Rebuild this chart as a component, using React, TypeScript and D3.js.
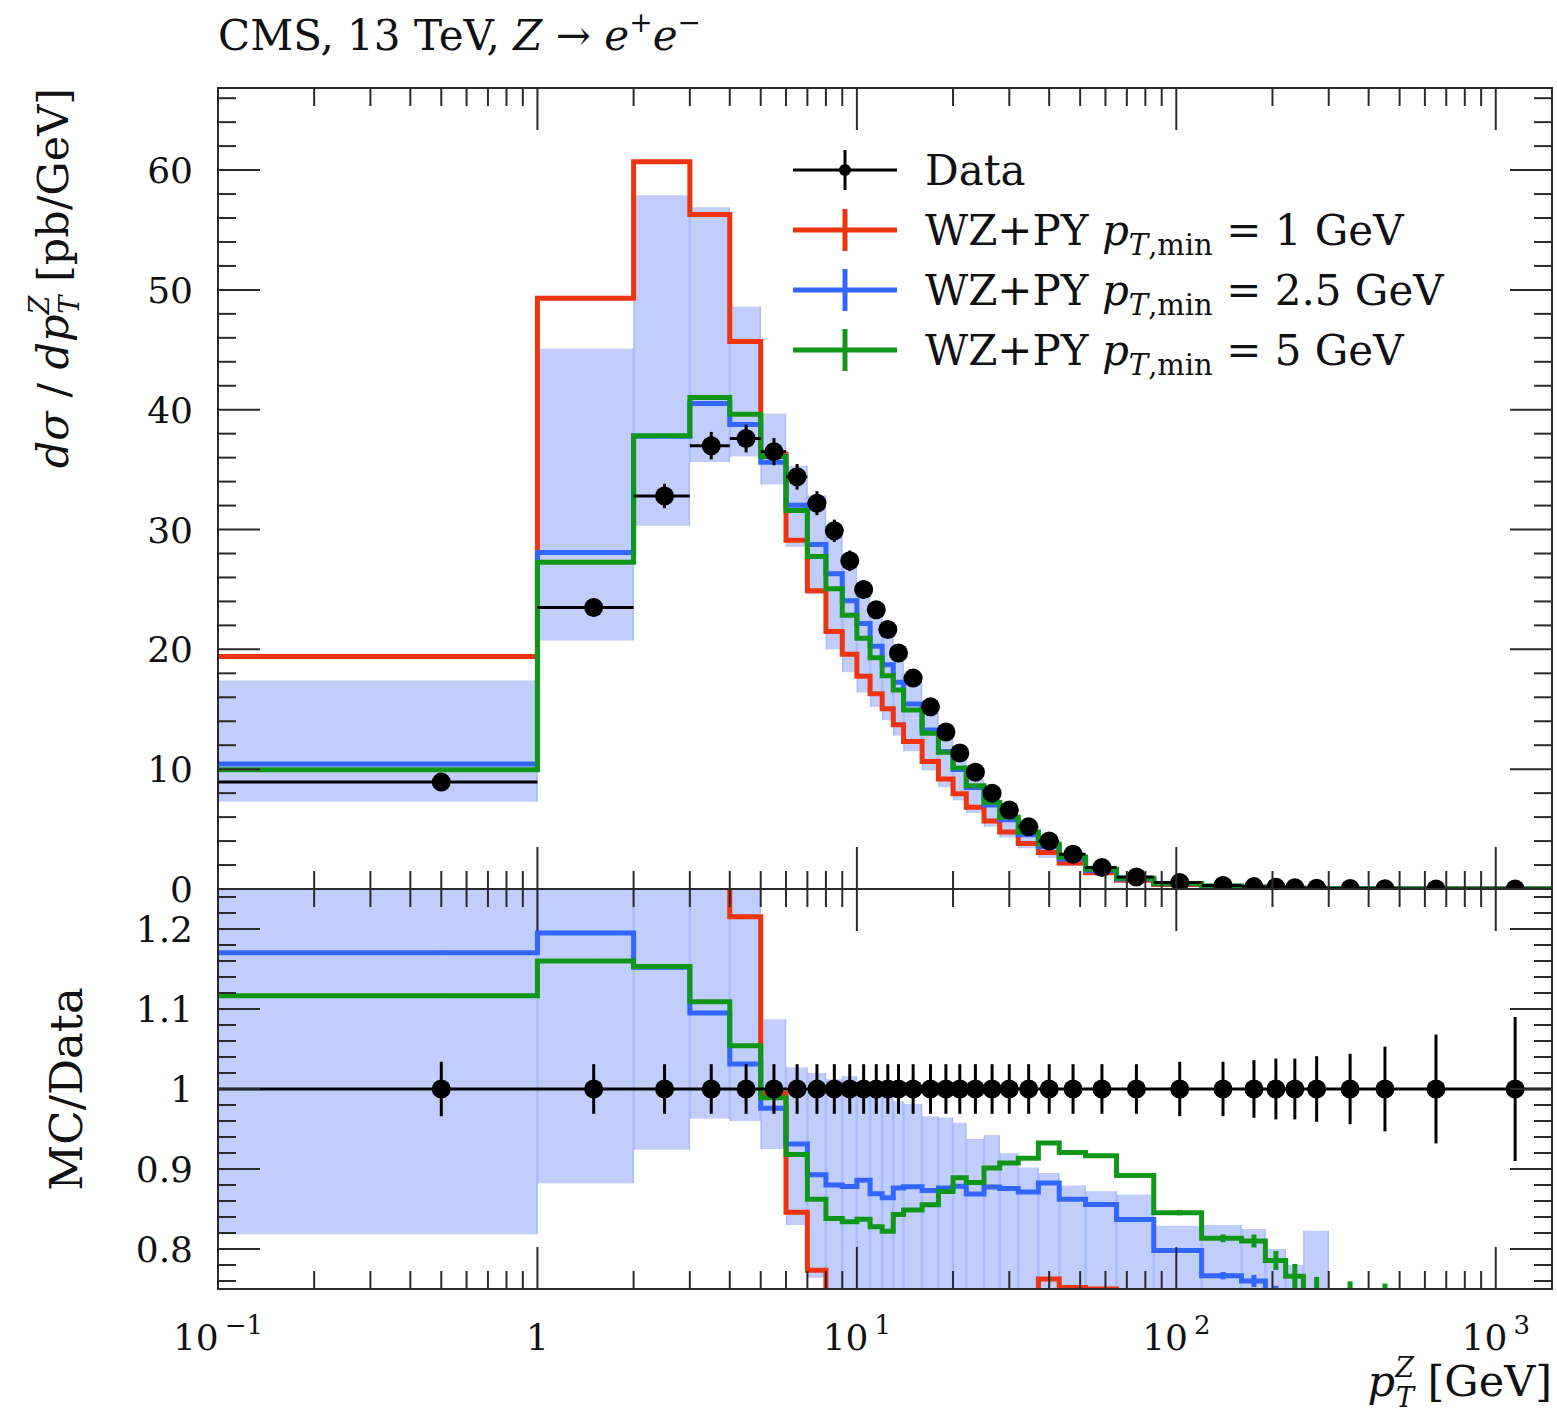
import React from "react";
import * as d3 from "d3";

// ---------------- data ----------------
const binEdges = [0, 1, 2, 3, 4, 5, 6, 7, 8, 9, 10, 11, 12, 13, 14, 16, 18, 20, 22, 25, 28, 32, 37, 43, 52, 65, 85, 120, 160, 190, 220, 250, 300, 400, 500, 800, 1500];

const dataValues = [8.92, 23.5, 32.8, 37.0, 37.6, 36.5, 34.4, 32.2, 29.9, 27.4, 25.0, 23.3, 21.65, 19.7, 17.6, 15.2, 13.1, 11.35, 9.75, 8.0, 6.6, 5.2, 4.0, 2.9, 1.8, 1.0, 0.55, 0.3, 0.2, 0.14, 0.1, 0.07, 0.04, 0.02, 0.01, 0.003];
const dataRelErr = [0.034, 0.031, 0.031, 0.031, 0.031, 0.031, 0.031, 0.031, 0.031, 0.031, 0.031, 0.031, 0.031, 0.031, 0.031, 0.031, 0.031, 0.031, 0.031, 0.031, 0.031, 0.031, 0.031, 0.031, 0.031, 0.031, 0.034, 0.034, 0.036, 0.038, 0.038, 0.041, 0.044, 0.053, 0.068, 0.09];

// WZ+PY pT,min = 1 GeV
const mcPt1 = [19.4, 49.3, 60.7, 56.3, 45.7, 36.3, 29.1, 24.9, 21.5, 19.6, 17.75, 16.3, 15.05, 13.7, 12.3, 10.65, 9.17, 7.95, 6.83, 5.68, 4.75, 3.8, 3.05, 2.18, 1.35, 0.73, 0.385, 0.19, 0.12, 0.08, 0.055, 0.035, 0.02, 0.009, 0.004, 0.001];
// WZ+PY pT,min = 2.5 GeV
const mcPt25 = [10.44, 28.08, 37.79, 40.52, 38.77, 35.62, 32.03, 28.75, 26.31, 24.06, 22.15, 20.25, 18.71, 17.26, 15.45, 13.27, 11.48, 9.97, 8.47, 7.02, 5.78, 4.53, 3.53, 2.50, 1.54, 0.837, 0.439, 0.230, 0.152, 0.104, 0.072, 0.049, 0.027, 0.013, 0.006, 0.0015];
// WZ+PY pT,min = 5 GeV
const mcPt5 = [9.96, 27.26, 37.82, 41.03, 39.63, 36.10, 31.58, 27.76, 25.06, 22.85, 20.93, 19.29, 17.80, 16.61, 14.94, 13.0, 11.42, 10.09, 8.61, 7.21, 5.99, 4.75, 3.73, 2.67, 1.65, 0.892, 0.465, 0.244, 0.162, 0.110, 0.0766, 0.052, 0.0288, 0.0142, 0.0065, 0.0018];
const mcRelErr = [0.002, 0.002, 0.002, 0.002, 0.002, 0.002, 0.002, 0.002, 0.002, 0.002, 0.002, 0.002, 0.002, 0.002, 0.002, 0.002, 0.002, 0.002, 0.002, 0.002, 0.002, 0.002, 0.002, 0.002, 0.002, 0.002, 0.004, 0.006, 0.01, 0.015, 0.02, 0.03, 0.055, 0.066, 0.09, 0.15];

// uncertainty band
const bandLow = [7.30, 20.73, 30.31, 35.63, 36.1, 33.76, 28.55, 24.6, 20.0, 18.1, 16.4, 15.2, 14.1, 12.8, 11.5, 9.9, 8.5, 7.4, 6.35, 5.2, 4.3, 3.4, 2.6, 1.9, 1.17, 0.65, 0.36, 0.19, 0.12, 0.085, 0.06, 0.04, 0.024, 0.012, 0.005, 0.001];
const bandHigh = [17.4, 45.1, 57.9, 56.9, 48.6, 39.68, 35.33, 32.84, 30.26, 27.84, 25.13, 23.25, 21.43, 19.40, 17.27, 14.68, 12.63, 10.87, 9.14, 7.54, 6.07, 4.69, 3.58, 2.55, 1.57, 0.868, 0.456, 0.249, 0.165, 0.112, 0.078, 0.0576, 0.028, 0.014, 0.006, 0.0015];

const mainYTicks = [0, 10, 20, 30, 40, 50, 60];
const ratioYTicks = [0.8, 0.9, 1, 1.1, 1.2];
const ratioYLabels = ["0.8", "0.9", "1", "1.1", "1.2"];
const xMajorExps = [-1, 0, 1, 2, 3];

const series = [
  { name: "1", values: mcPt1, color: "#EE3311" },
  { name: "2.5", values: mcPt25, color: "#3366FF" },
  { name: "5", values: mcPt5, color: "#109618" },
];

// ---------------- layout ----------------
const L = 218, R = 1552, T = 88, MB = 889, RB = 1289;
const FONT = "DejaVu Serif";
const AX = "#2a2a2a";

const x = d3.scaleLog().domain([0.1, 1500]).range([L, R]);
const yMain = d3.scaleLinear().domain([0, 66.85]).range([MB, T]);
const yRatio = d3.scaleLinear().domain([0.75, 1.25]).range([RB, MB]);
const xe = (v: number) => x(Math.max(v, 0.1));
const centers = binEdges.slice(0, -1).map((lo, i) => (lo + binEdges[i + 1]) / 2);

function stepPath(vals: number[], yS: (v: number) => number) {
  let p = "";
  vals.forEach((v, i) => {
    const x0 = xe(binEdges[i]);
    const x1 = xe(binEdges[i + 1]);
    const yy = yS(v);
    p += (i === 0 ? `M${x0},${yy}` : `V${yy}`) + `H${x1}`;
  });
  return p;
}

function xTicks() {
  const out: { v: number; major: boolean }[] = [];
  for (const e of xMajorExps) {
    const b = Math.pow(10, e);
    out.push({ v: b, major: true });
    for (let m = 2; m <= 9; m++) {
      const v = m * b;
      if (v < 1500) out.push({ v, major: false });
    }
  }
  return out;
}

const MAJ = 42, MIN = 18;

export default function App() {
  const xt = xTicks();
  const mainMinor = d3.range(0, 67, 2);
  const ratioMinor = d3.range(0.76, 1.2401, 0.02);
  const ratioOf = (vals: number[]) => vals.map((v, i) => v / dataValues[i]);

  const band = (lo: number[], hi: number[], yS: (v: number) => number, key: string) =>
    lo.map((l, i) => {
      const x0 = xe(binEdges[i]);
      const x1 = xe(binEdges[i + 1]);
      const y0 = yS(hi[i]);
      const y1 = yS(l);
      return (
        <g key={key + i}>
          <rect x={x0} y={y0} width={x1 - x0} height={y1 - y0} fill="#c1cdfa" />
          <line x1={x0 + 0.5} x2={x0 + 0.5} y1={y0} y2={y1} stroke="#a9bbfa" strokeWidth={1.5} />
          <line x1={x1 - 0.5} x2={x1 - 0.5} y1={y0} y2={y1} stroke="#a9bbfa" strokeWidth={1.5} />
        </g>
      );
    });

  const mcErrBars = (vals: number[], yS: (v: number) => number, color: string, key: string) =>
    vals.map((v, i) => {
      const err = v * mcRelErr[i];
      const cx = x(centers[i]);
      return (
        <line key={key + i} x1={cx} x2={cx} y1={yS(v - err)} y2={yS(v + err)} stroke={color} strokeWidth={5} />
      );
    });

  const rBandLo = ratioOf(bandLow);
  const rBandHi = ratioOf(bandHigh);

  return (
    <svg width={1557} height={1418} style={{ position: "absolute", left: 0, top: 0, background: "#fff" }} fontFamily={FONT}>
      <defs>
        <clipPath id="clipMain">
          <rect x={L} y={T} width={R - L} height={MB - T} />
        </clipPath>
        <clipPath id="clipRatio">
          <rect x={L} y={MB} width={R - L} height={RB - MB} />
        </clipPath>
      </defs>
      <rect x={0} y={0} width={1557} height={1418} fill="#fff" />

      {/* ---------- main panel ---------- */}
      <g clipPath="url(#clipMain)">
        {band(bandLow, bandHigh, yMain, "bm")}
        {series.map((s) => (
          <path key={"m" + s.name} d={stepPath(s.values, yMain)} fill="none" stroke={s.color} strokeWidth={5} />
        ))}
        {series.map((s) => mcErrBars(s.values, yMain, s.color, "me" + s.name))}
        {dataValues.map((v, i) => {
          const cx = x(centers[i]);
          const cy = yMain(v);
          const e = v * dataRelErr[i];
          return (
            <g key={"d" + i}>
              <line x1={xe(binEdges[i])} x2={xe(binEdges[i + 1])} y1={cy} y2={cy} stroke="#000" strokeWidth={3} />
              <line x1={cx} x2={cx} y1={yMain(v - e)} y2={yMain(v + e)} stroke="#000" strokeWidth={3} />
              <circle cx={cx} cy={cy} r={9.5} fill="#000" />
            </g>
          );
        })}
      </g>

      {/* ---------- ratio panel ---------- */}
      <g clipPath="url(#clipRatio)">
        {band(rBandLo, rBandHi, yRatio, "br")}
        {series.map((s) => (
          <path key={"r" + s.name} d={stepPath(ratioOf(s.values), yRatio)} fill="none" stroke={s.color} strokeWidth={5} />
        ))}
        {series.map((s) => mcErrBars(ratioOf(s.values), yRatio, s.color, "re" + s.name))}
        <line x1={L} x2={R} y1={yRatio(1)} y2={yRatio(1)} stroke="#000" strokeWidth={3} />
        {dataValues.map((v, i) => {
          const cx = x(centers[i]);
          const e = dataRelErr[i];
          return (
            <g key={"rd" + i}>
              <line x1={cx} x2={cx} y1={yRatio(1 - e)} y2={yRatio(1 + e)} stroke="#000" strokeWidth={3} />
              <circle cx={cx} cy={yRatio(1)} r={9.5} fill="#000" />
            </g>
          );
        })}
      </g>

      {/* ---------- frames & ticks ---------- */}
      <g stroke={AX} strokeWidth={2} fill="none">
        <rect x={L} y={T} width={R - L} height={RB - T} />
        <line x1={L} x2={R} y1={MB} y2={MB} />
        {xt.map((t, i) => {
          const px = x(t.v);
          const len = t.major ? MAJ : MIN;
          return (
            <g key={"xt" + i}>
              <line x1={px} x2={px} y1={T} y2={T + len} />
              <line x1={px} x2={px} y1={MB} y2={MB - len} />
              <line x1={px} x2={px} y1={MB} y2={MB + len} />
              <line x1={px} x2={px} y1={RB} y2={RB - len} />
            </g>
          );
        })}
        {mainMinor.map((v) => {
          const py = yMain(v);
          const len = v % 10 === 0 ? MAJ : MIN;
          return (
            <g key={"my" + v}>
              <line x1={L} x2={L + len} y1={py} y2={py} />
              <line x1={R} x2={R - len} y1={py} y2={py} />
            </g>
          );
        })}
        {ratioMinor.map((v, i) => {
          const py = yRatio(v);
          const major = Math.abs(v * 10 - Math.round(v * 10)) < 1e-6;
          const len = major ? MAJ : MIN;
          return (
            <g key={"ry" + i}>
              <line x1={L} x2={L + len} y1={py} y2={py} />
              <line x1={R} x2={R - len} y1={py} y2={py} />
            </g>
          );
        })}
      </g>

      {/* ---------- tick labels ---------- */}
      <g fontSize={36} fill="#111" textAnchor="end">
        {mainYTicks.map((v) => (
          <text key={"myl" + v} x={193} y={yMain(v) + 13}>
            {v}
          </text>
        ))}
        {ratioYTicks.map((v, i) => (
          <text key={"ryl" + v} x={193} y={yRatio(v) + 13}>
            {ratioYLabels[i]}
          </text>
        ))}
      </g>
      <g fontSize={36} fill="#111" textAnchor="middle">
        {xMajorExps.map((e) => (
          <text key={"xl" + e} x={x(Math.pow(10, e))} y={1350}>
            {e === 0 ? (
              "1"
            ) : (
              <>
                <tspan>10</tspan>
                <tspan fontSize={26} dx={6} dy={-16}>
                  {e < 0 ? "\u2212" + Math.abs(e) : String(e)}
                </tspan>
              </>
            )}
          </text>
        ))}
      </g>

      {/* ---------- axis labels ---------- */}
      <text x={218} y={50} fontSize={42} fill="#111">
        CMS, 13 TeV, <tspan fontStyle="italic">Z</tspan> {"\u2192"} <tspan fontStyle="italic">e</tspan>
        <tspan fontSize={28} dy={-18}>+</tspan>
        <tspan fontStyle="italic" dy={18}>e</tspan>
        <tspan fontSize={28} dy={-18}>{"\u2212"}</tspan>
      </text>

      <text transform={`translate(68,${T}) rotate(-90)`} textAnchor="end" fontSize={43} fill="#111">
        <tspan fontStyle="italic">d{"\u03c3"}</tspan> / <tspan fontStyle="italic">dp</tspan>
        <tspan fontStyle="italic" fontSize={27} dy={-19}>Z</tspan>
        <tspan fontStyle="italic" fontSize={27} dx={-18} dy={30}>T</tspan>
        <tspan dy={-11}> [pb/GeV]</tspan>
      </text>

      <text transform={`translate(82,${yRatio(1)}) rotate(-90)`} textAnchor="middle" fontSize={45} fill="#111">
        MC/Data
      </text>

      <text x={R} y={1396} textAnchor="end" fontSize={43} fill="#111">
        <tspan fontStyle="italic">p</tspan>
        <tspan fontStyle="italic" fontSize={27} dy={-19}>Z</tspan>
        <tspan fontStyle="italic" fontSize={27} dx={-18} dy={30}>T</tspan>
        <tspan dy={-11}> [GeV]</tspan>
      </text>

      {/* ---------- legend ---------- */}
      <g fontSize={42} fill="#111">
        <g>
          <line x1={793} x2={897} y1={170} y2={170} stroke="#000" strokeWidth={3} />
          <line x1={845} x2={845} y1={150} y2={190} stroke="#000" strokeWidth={3} />
          <circle cx={845} cy={170} r={6} fill="#000" />
          <text x={925} y={185}>Data</text>
        </g>
        {series.map((s, i) => {
          const ly = 230 + i * 60;
          return (
            <g key={"lg" + s.name}>
              <line x1={793} x2={897} y1={ly} y2={ly} stroke={s.color} strokeWidth={5} />
              <line x1={845} x2={845} y1={ly - 21} y2={ly + 21} stroke={s.color} strokeWidth={5} />
              <text x={925} y={ly + 15}>
                WZ+PY <tspan fontStyle="italic">p</tspan>
                <tspan fontSize={29} dy={10} fontStyle="italic">T</tspan>
                <tspan fontSize={29}>,min</tspan>
                <tspan dy={-10}> = {s.name} GeV</tspan>
              </text>
            </g>
          );
        })}
      </g>
    </svg>
  );
}
